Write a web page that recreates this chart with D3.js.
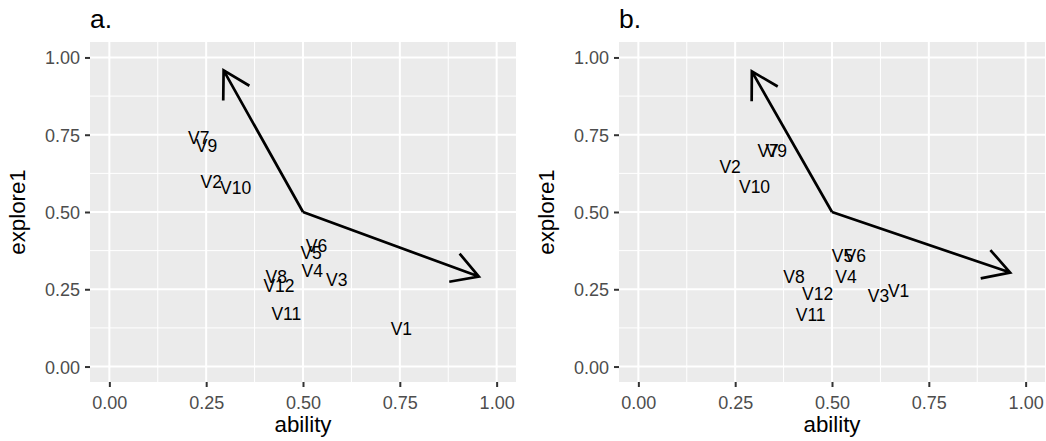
<!DOCTYPE html>
<html>
<head>
<meta charset="utf-8">
<script src="https://cdn.jsdelivr.net/npm/d3@7"></script>
<style>
  html, body { margin: 0; padding: 0; background: #fff; }
  svg { display: block; }
  text { font-family: "Liberation Sans", Arial, Helvetica, sans-serif; }
</style>
</head>
<body>
<svg id="chart" width="1046" height="441"></svg>
<script>
// ---- data ----
const panelTitles = ["a.", "b."];
const labels = ["V1","V2","V3","V4","V5","V6","V7","V8","V9","V10","V11","V12"];
const abilityA  = [0.754, 0.263, 0.587, 0.524, 0.521, 0.535, 0.231, 0.431, 0.251, 0.326, 0.457, 0.438];
const explore1A = [0.123, 0.598, 0.280, 0.310, 0.368, 0.390, 0.741, 0.291, 0.716, 0.580, 0.170, 0.261];
const abilityB  = [0.672, 0.237, 0.620, 0.536, 0.527, 0.560, 0.335, 0.402, 0.356, 0.300, 0.445, 0.463];
const explore1B = [0.246, 0.646, 0.228, 0.291, 0.359, 0.359, 0.698, 0.291, 0.698, 0.582, 0.167, 0.235];
const arrowOrigin = [0.5, 0.5];
const arrowTipsA = [[0.295, 0.958], [0.954, 0.291]];
const arrowTipsB = [[0.293, 0.955], [0.960, 0.304]];
const tickValues = [0, 0.25, 0.5, 0.75, 1];
const tickLabels = ["0.00", "0.25", "0.50", "0.75", "1.00"];
const minorValues = [0.125, 0.375, 0.625, 0.875];

const panels = [
  { title: panelTitles[0], xs: abilityA, ys: explore1A, tips: arrowTipsA, left: 90 },
  { title: panelTitles[1], xs: abilityB, ys: explore1B, tips: arrowTipsB, left: 619 }
];

const svg = d3.select("#chart");
const W = 426, pTop = 42, pBottom = 382;
const tickFmt = d => tickLabels[tickValues.indexOf(d)];

panels.forEach(p => {
  const x = d3.scaleLinear().domain([-0.05, 1.05]).range([p.left, p.left + W]);
  const y = d3.scaleLinear().domain([-0.05, 1.05]).range([pBottom, pTop]);
  const g = svg.append("g");

  g.append("rect").attr("x", p.left).attr("y", pTop).attr("width", W).attr("height", pBottom - pTop).attr("fill", "#EBEBEB");

  // minor grid
  g.selectAll(".mx").data(minorValues).join("line")
    .attr("x1", d => x(d)).attr("x2", d => x(d)).attr("y1", pTop).attr("y2", pBottom)
    .attr("stroke", "#fff").attr("stroke-width", 1);
  g.selectAll(".my").data(minorValues).join("line")
    .attr("y1", d => y(d)).attr("y2", d => y(d)).attr("x1", p.left).attr("x2", p.left + W)
    .attr("stroke", "#fff").attr("stroke-width", 1);
  // major grid
  g.selectAll(".Mx").data(tickValues).join("line")
    .attr("x1", d => x(d)).attr("x2", d => x(d)).attr("y1", pTop).attr("y2", pBottom)
    .attr("stroke", "#fff").attr("stroke-width", 2);
  g.selectAll(".My").data(tickValues).join("line")
    .attr("y1", d => y(d)).attr("y2", d => y(d)).attr("x1", p.left).attr("x2", p.left + W)
    .attr("stroke", "#fff").attr("stroke-width", 2);

  // axes
  const xAxis = d3.axisBottom(x).tickValues(tickValues).tickFormat(tickFmt).tickSize(5).tickPadding(5);
  const yAxis = d3.axisLeft(y).tickValues(tickValues).tickFormat(tickFmt).tickSize(5).tickPadding(5);
  const gx = g.append("g").attr("transform", `translate(0,${pBottom})`).call(xAxis);
  const gy = g.append("g").attr("transform", `translate(${p.left},0)`).call(yAxis);
  [gx, gy].forEach(a => {
    a.select(".domain").remove();
    a.selectAll(".tick line").attr("stroke", "#333").attr("stroke-width", 2);
    a.selectAll(".tick text").attr("fill", "#4D4D4D").attr("font-size", 18)
      .attr("font-family", "'Liberation Sans', Arial, sans-serif");
  });
  gx.selectAll(".tick text").attr("dy", "0.95em");
  gy.selectAll(".tick text").attr("dy", "0.36em");

  // axis titles
  g.append("text").attr("x", p.left + W / 2).attr("y", 432).attr("text-anchor", "middle")
    .attr("font-size", 22.3).attr("fill", "#000").text("ability");
  g.append("text").attr("transform", `translate(${p.left - 65},${(pTop + pBottom) / 2}) rotate(-90)`)
    .attr("text-anchor", "middle").attr("font-size", 22.3).attr("fill", "#000").text("explore1");

  // panel title
  g.append("text").attr("x", p.left).attr("y", 28).attr("font-size", 26.5).attr("fill", "#000").text(p.title);

  // arrows
  const ox = x(arrowOrigin[0]), oy = y(arrowOrigin[1]);
  const headLen = 30, headAng = Math.PI / 6;
  p.tips.forEach(t => {
    const tx = x(t[0]), ty = y(t[1]);
    const ang = Math.atan2(oy - ty, ox - tx);
    const path = d3.path();
    path.moveTo(ox, oy); path.lineTo(tx, ty);
    path.moveTo(tx + headLen * Math.cos(ang + headAng), ty + headLen * Math.sin(ang + headAng));
    path.lineTo(tx, ty);
    path.lineTo(tx + headLen * Math.cos(ang - headAng), ty + headLen * Math.sin(ang - headAng));
    g.append("path").attr("d", path.toString()).attr("fill", "none").attr("stroke", "#000")
      .attr("stroke-width", 2.7).attr("stroke-linejoin", "miter").attr("stroke-linecap", "butt");
  });

  // labels
  g.selectAll(".lab").data(labels).join("text")
    .attr("x", (d, i) => x(p.xs[i])).attr("y", (d, i) => y(p.ys[i]))
    .attr("dy", "0.36em").attr("text-anchor", "middle").attr("font-size", 17.5).attr("fill", "#000")
    .text(d => d);
});
</script>
</body>
</html>
